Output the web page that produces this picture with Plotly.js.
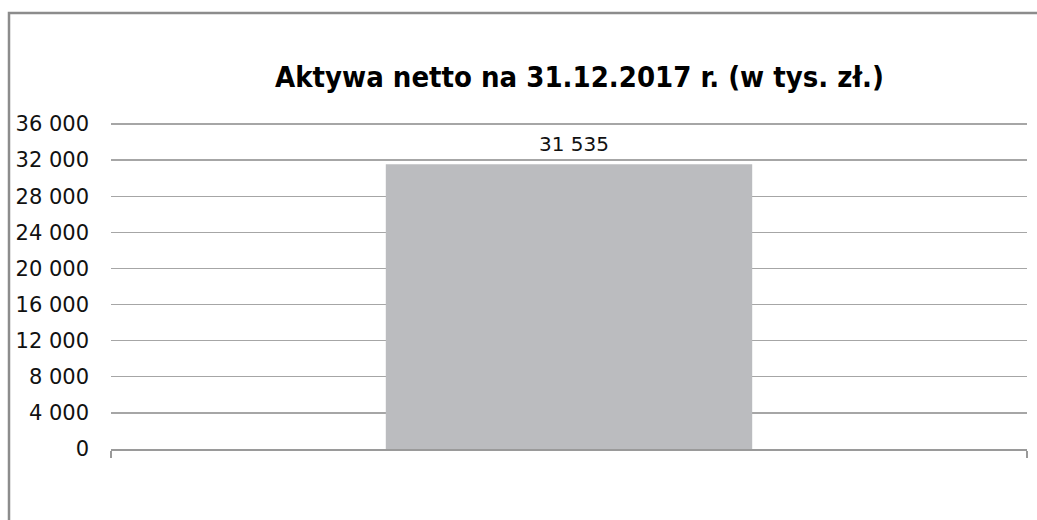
<!DOCTYPE html>
<html>
<head>
<meta charset="utf-8">
<script src="https://cdn.plot.ly/plotly-3.0.1.min.js"></script>
<style>html,body{margin:0;padding:0;background:#fff;}#chart{width:1037px;height:520px;}</style>
</head>
<body>
<div id="chart"></div>
<script>
const categories = ["Aktywa netto"];
const values = [31535];
const valueLabels = ["31 535"];
const tickValues = [0, 4000, 8000, 12000, 16000, 20000, 24000, 28000, 32000, 36000];
const tickLabels = ["0", "4 000", "8 000", "12 000", "16 000", "20 000", "24 000", "28 000", "32 000", "36 000"];
const chartTitle = "Aktywa netto na 31.12.2017 r. (w tys. zł.)";

const trace = {
  type: "bar",
  x: [0],
  y: values,
  width: 0.4,
  marker: {color: "#BBBCBF", line: {width: 0}},
  hoverinfo: "none"
};

const layout = {
  width: 1037,
  height: 520,
  margin: {l: 111, r: 10, t: 122, b: 71},
  paper_bgcolor: "#ffffff",
  plot_bgcolor: "#ffffff",
  showlegend: false,
  title: {
    text: chartTitle,
    font: {family: "DejaVu Sans Condensed, DejaVu Sans, sans-serif", size: 29, color: "#000", weight: "bold"},
    x: 579.5 / 1037, xref: "container", xanchor: "center",
    y: 1 - 77 / 520, yref: "container", yanchor: "middle"
  },
  xaxis: {
    range: [-0.5, 0.5],
    tickvals: [-0.5, 0.5],
    ticktext: ["", ""],
    ticks: "outside",
    ticklen: 7,
    tickcolor: "#9A9A9A",
    tickwidth: 1.5,
    showgrid: false,
    zeroline: false,
    showline: true,
    linecolor: "#9A9A9A",
    linewidth: 1.5,
    fixedrange: true
  },
  yaxis: {
    range: [0, 36220],
    tickvals: tickValues,
    ticktext: tickLabels,
    ticks: "",
    ticklabelstandoff: 21,
    tickfont: {family: "DejaVu Sans, sans-serif", size: 21, color: "#111"},
    showgrid: true,
    gridcolor: "#A6A6A6",
    gridwidth: 1.3,
    zeroline: false,
    showline: false,
    fixedrange: true
  },
  annotations: [{
    x: 0, y: values[0], xref: "x", yref: "y",
    text: valueLabels[0],
    showarrow: false,
    xshift: 5, yshift: 20,
    yanchor: "middle",
    font: {family: "DejaVu Sans, sans-serif", size: 20, color: "#111"}
  }],
  shapes: [{
    type: "rect", xref: "paper", yref: "paper",
    x0: (9 - 111) / 916, x1: (1050 - 111) / 916,
    y0: (449 - 540) / 327, y1: (449 - 13) / 327,
    line: {color: "#8C8C8C", width: 2.5},
    fillcolor: "rgba(0,0,0,0)",
    layer: "below"
  }]
};

Plotly.newPlot("chart", [trace], layout, {displayModeBar: false, staticPlot: true});
</script>
</body>
</html>
